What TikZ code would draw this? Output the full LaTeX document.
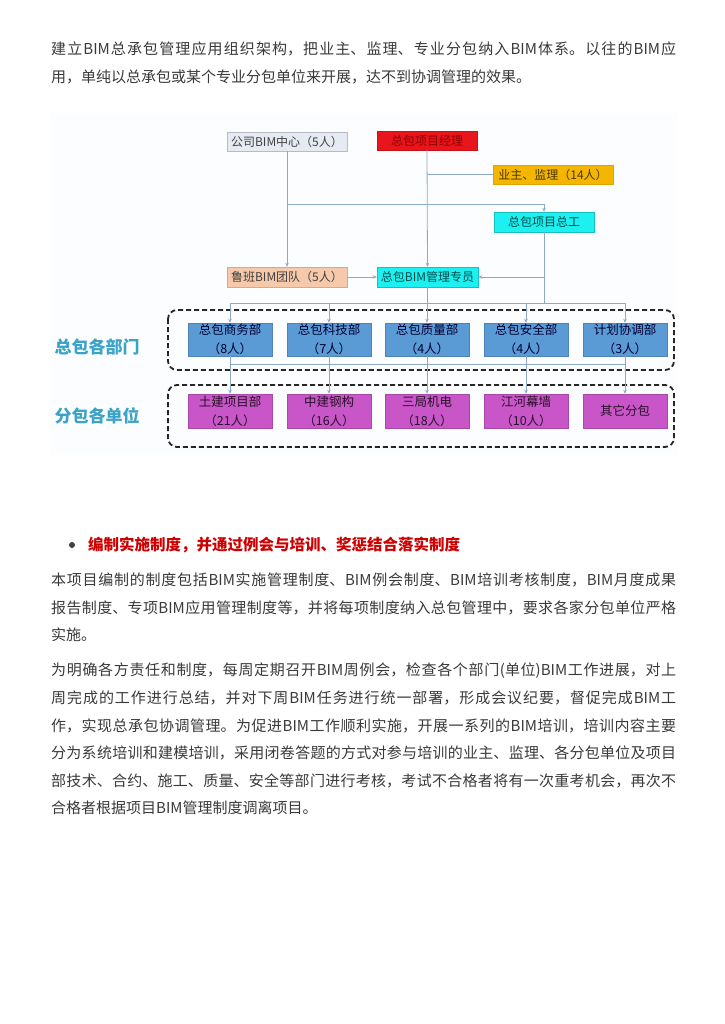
\documentclass[tikz,border=0pt]{standalone}
\usepackage{fontspec}
\setmainfont{Noto Sans CJK SC}
\XeTeXlinebreaklocale "zh"
\XeTeXlinebreakskip=0pt plus 2pt minus 0.5pt
\usepackage{xcolor}
\usetikzlibrary{arrows.meta,positioning}
\definecolor{bodytext}{HTML}{3A3A3A}
\definecolor{headred}{HTML}{CC0000}
\definecolor{chartbg}{HTML}{FCFDFE}
\definecolor{softgray}{HTML}{E6EBF3}
\definecolor{pmred}{HTML}{E8161C}
\definecolor{ownergold}{HTML}{F4B600}
\definecolor{cyanbox}{HTML}{1CF0F0}
\definecolor{peach}{HTML}{F5C9A9}
\definecolor{deptblue}{HTML}{5B9BD5}
\definecolor{submagenta}{HTML}{C956C8}
\definecolor{linkblue}{HTML}{8DA9CA}
\definecolor{labelteal}{HTML}{3AA3C7}
\tikzset{
  txtline/.style={anchor=west, inner sep=0pt, font=\fontsize{15}{18}\selectfont, text=bodytext},
  parline/.style={txtline, text width=625pt, align=justify},
  box/.style={draw, inner sep=0pt, align=center, font=\fontsize{12}{18}\selectfont},
  topbox/.style={box, minimum height=19pt, minimum width=120pt},
  bgray/.style={topbox, fill=softgray, draw=softgray!80!black, text=black!75},
  bred/.style={topbox, fill=pmred, draw=pmred!85!black, minimum width=100pt, text=red!55!black},
  bgold/.style={topbox, fill=ownergold, draw=ownergold!90!black, text=black!70!ownergold},
  bcyan/.style={topbox, fill=cyanbox, draw=cyanbox!80!black, minimum width=100pt, minimum height=20pt, text=teal!60!black},
  bpeach/.style={topbox, fill=peach, draw=peach!85!black, minimum height=20pt, text=black!75},
  dept/.style={box, font=\fontsize{12.5}{19}\selectfont, fill=deptblue, draw=deptblue!85!black, minimum width=84pt, minimum height=33pt, text=blue!20!black},
  subunit/.style={box, font=\fontsize{12.5}{19}\selectfont, fill=submagenta, draw=submagenta!85!black, minimum width=84pt, minimum height=34pt, text=black!80!submagenta},
  link/.style={draw=linkblue, line width=0.8pt},
  arrow/.style={link, -{Stealth[length=4pt,width=3.5pt]}},
  groupframe/.style={draw=black!85, dash pattern=on 5pt off 3pt, line width=1.8pt, rounded corners=9pt},
  grouplabel/.style={font=\fontsize{17}{20}\selectfont\bfseries, text=labelteal}
}

\begin{document}
\begin{tikzpicture}[x=1pt,y=-1pt]
  \fill[white] (0,0) rectangle (724,1024);
  \useasboundingbox (0,0) rectangle (724,1024);

  % text above the chart
  \foreach \y/\s/\txt [count=\i] in {49/0pt/{建立BIM总承包管理应用组织架构，把业主、监理、专业分包纳入BIM体系。以往的BIM应},
                                     77/0pt plus 1fil/{用，单纯以总承包或某个专业分包单位来开展，达不到协调管理的效果。}} {
    \node[parline] (pa\i) at (51,\y) {\parfillskip=\s\relax\txt\par};
  }

  % chart
  \fill[chartbg] (51,113) rectangle (677,455);

  \node[bgray] (hub) at (287,141.5) {公司BIM中心（5人）};
  \node[bred] (pm) at (427,140.5) {总包项目经理};
  \node[bgold] (owner) at (553,174.5) {业主、监理（14人）};
  \node[bcyan] (chief) at (544,222) {总包项目总工};
  \node[bpeach] (luban) at (287,277) {鲁班BIM团队（5人）};
  \node[bcyan, minimum width=101pt] (bimm) at (427.5,277) {总包BIM管理专员};

  \draw[groupframe] (168,310) rectangle (674,370);
  \draw[groupframe] (168,385) rectangle (674,447);
  \node[grouplabel] (deptlabel) at (97,347) {总包各部门};
  \node[grouplabel] (sublabel) at (97,416) {分包各单位};

  \foreach \x/\name/\num [count=\i] in {230/总包商务部/8,329/总包科技部/7,427/总包质量部/4,526/总包安全部/4,625/计划协调部/3} {
    \node[dept] (dept\i) at (\x,339.5) {\name\\（\num 人）};
  }
  \foreach \x/\txt [count=\i] in {230/{土建项目部\\（21人）},329/{中建钢构\\（16人）},427/{三局机电\\（18人）},526/{江河幕墙\\（10人）},625/{其它分包}} {
    \node[subunit] (sub\i) at (\x,411) {\txt};
  }

  \coordinate (split) at (287,204);
  \coordinate (bus) at (427,303);
  \coordinate (bus2) at (427,364);

  \draw[arrow] (hub.south) -- (luban.north);
  \draw[arrow] (split) -| (chief.north);
  \draw[arrow] (pm.south) -- (bimm.north);
  \draw[link] (owner.west) -- (owner.west -| pm.south);
  \draw[link] (chief.south) -- (chief.south |- bus);
  \draw[arrow] (chief.south |- bimm.east) -- (bimm.east);
  \draw[arrow] (luban.east) -- (bimm.west);
  \draw[link] (bimm.south) -- (bimm.south |- bus);
  \draw[link] (dept1.north |- bus) -- (dept5.north |- bus);
  \draw[link] (dept1.south |- bus2) -- (dept5.south |- bus2);
  \foreach \i in {1,...,5} {
    \draw[arrow] (dept\i.north |- bus) -- (dept\i.north);
    \draw[arrow] (dept\i.south) -- (sub\i.north);
  }

  % section heading
  \node[circle, fill=black!75, inner sep=0pt, minimum size=6pt] (dot) at (72,545) {};
  \node[txtline, text=headred, font=\fontsize{15.5}{18}\selectfont\bfseries] (heading) at (88,545) {编制实施制度，并通过例会与培训、奖惩结合落实制度};

  \foreach \y/\s/\txt [count=\i] in {580/0pt/{本项目编制的制度包括BIM实施管理制度、BIM例会制度、BIM培训考核制度，BIM月度成果},
                                     608/0pt/{报告制度、专项BIM应用管理制度等，并将每项制度纳入总包管理中，要求各家分包单位严格},
                                     635/0pt plus 1fil/{实施。}} {
    \node[parline] (pb\i) at (51,\y) {\parfillskip=\s\relax\txt\par};
  }
  \foreach \y/\s/\txt [count=\i] in {671/0pt/{为明确各方责任和制度，每周定期召开BIM周例会，检查各个部门(单位)BIM工作进展，对上},
                                     698/0pt/{周完成的工作进行总结，并对下周BIM任务进行统一部署，形成会议纪要，督促完成BIM工},
                                     726/0pt/{作，实现总承包协调管理。为促进BIM工作顺利实施，开展一系列的BIM培训，培训内容主要},
                                     753/0pt/{分为系统培训和建模培训，采用闭卷答题的方式对参与培训的业主、监理、各分包单位及项目},
                                     781/0pt/{部技术、合约、施工、质量、安全等部门进行考核，考试不合格者将有一次重考机会，再次不},
                                     808/0pt plus 1fil/{合格者根据项目BIM管理制度调离项目。}} {
    \node[parline] (pc\i) at (51,\y) {\parfillskip=\s\relax\txt\par};
  }
\end{tikzpicture}
\end{document}
